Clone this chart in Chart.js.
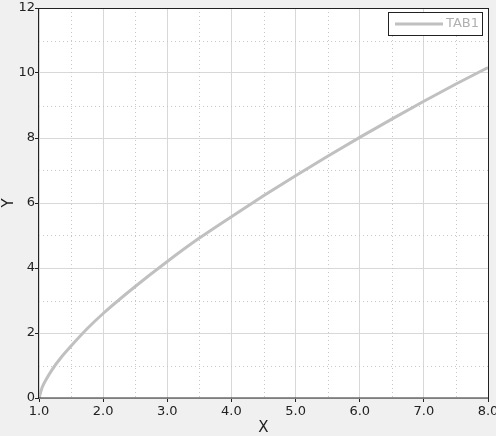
<!DOCTYPE html>
<html>
<head>
<meta charset="utf-8">
<script src="https://cdn.jsdelivr.net/npm/chart.js@4.4.1/dist/chart.umd.min.js"></script>
<style>
  html, body { margin: 0; padding: 0; background: #f0f0f0; }
  #contenedor { width: 496px; height: 436px; }
</style>
</head>
<body>
<div id="contenedor"><canvas id="graficoTab"></canvas></div>
<script>
// valores
var valoresX = [1.0, 1.05, 1.1, 1.2, 1.35, 1.5, 1.75, 2.0, 2.5, 3.0, 3.5, 4.0, 4.5, 5.0, 5.5, 6.0, 6.5, 7.0, 7.5, 8.0];
var valoresY = [0, 0.33, 0.53, 0.86, 1.26, 1.6, 2.13, 2.6, 3.43, 4.2, 4.92, 5.58, 6.22, 6.84, 7.44, 8.02, 8.58, 9.13, 9.66, 10.17];
var etiquetaSerie = "TAB1";
var rangoX = [1, 8];
var rangoY = [0, 12];

var graficoTab = null;

// fondo blanco, grilla punteada (0.5 en X, 1 en Y), marco y leyenda
var grillaMenor = {
  id: 'grillaMenor',
  beforeDraw: function(chart) {
    var a = chart.chartArea;
    chart.ctx.save();
    chart.ctx.fillStyle = '#ffffff';
    chart.ctx.fillRect(a.left, a.top, a.right - a.left, a.bottom - a.top);
    chart.ctx.restore();
  },
  beforeDatasetsDraw: function(chart) {
    var ctx = chart.ctx;
    var area = chart.chartArea;
    var sx = chart.scales.x;
    var sy = chart.scales.y;
    ctx.save();
    ctx.strokeStyle = '#c8c8c8';
    ctx.lineWidth = 1;
    ctx.setLineDash([1, 3]);
    for (var v = 1.5; v < 8; v += 1) {
      var px = Math.round(sx.getPixelForValue(v)) + 0.5;
      ctx.beginPath();
      ctx.moveTo(px, area.top);
      ctx.lineTo(px, area.bottom);
      ctx.stroke();
    }
    for (var w = 1; w < 12; w += 2) {
      var py = Math.round(sy.getPixelForValue(w)) + 0.5;
      ctx.beginPath();
      ctx.moveTo(area.left, py);
      ctx.lineTo(area.right, py);
      ctx.stroke();
    }
    ctx.restore();
  },
  afterDraw: function(chart) {
    var ctx = chart.ctx;
    var a = chart.chartArea;
    ctx.save();
    ctx.strokeStyle = '#222';
    ctx.lineWidth = 1;
    ctx.strokeRect(Math.round(a.left) - 0.5, Math.round(a.top) + 0.5,
      Math.round(a.right - a.left) + 1, Math.round(a.bottom - a.top) - 0.5);

    // leyenda dentro del grafico
    var ds = chart.data.datasets[0];
    var x0 = Math.round(a.right) - 100, y0 = Math.round(a.top) + 4;
    ctx.fillStyle = '#ffffff';
    ctx.fillRect(x0, y0, 94, 23);
    ctx.strokeStyle = '#222';
    ctx.strokeRect(x0 + 0.5, y0 + 0.5, 94, 23);
    ctx.strokeStyle = ds.borderColor;
    ctx.lineWidth = 3;
    ctx.beginPath();
    ctx.moveTo(x0 + 7, y0 + 12);
    ctx.lineTo(x0 + 55, y0 + 12);
    ctx.stroke();
    ctx.fillStyle = '#b0b0b0';
    ctx.font = '13px "DejaVu Sans"';
    ctx.textBaseline = 'middle';
    ctx.fillText(ds.label, x0 + 58, y0 + 12);
    ctx.restore();
  }
};

function crearGrafico() {
  var ctx = document.getElementById("graficoTab").getContext("2d");
  var puntos = valoresX.map(function(x, i) { return { x: x, y: valoresY[i] }; });

  graficoTab = new Chart(ctx, {
    type: "line",
    data: {
      datasets: [
        {
          label: etiquetaSerie,
          data: puntos,
          borderColor: "#c0c0c0",
          borderWidth: 3,
          pointRadius: 0,
          fill: false,
          cubicInterpolationMode: 'monotone'
        }
      ]
    },
    options: {
      responsive: true,
      maintainAspectRatio: false,
      animation: false,
      layout: { padding: { top: 8, right: 8, left: 0, bottom: 0 } },
      plugins: {
        legend: { display: false },
        tooltip: { enabled: false }
      },
      scales: {
        x: {
          type: 'linear',
          min: rangoX[0],
          max: rangoX[1],
          afterFit: function(scale) {
            scale.height = 38;
            scale.paddingLeft = 0;
            scale.paddingRight = 0;
          },
          ticks: {
            stepSize: 1,
            color: '#222',
            font: { family: 'DejaVu Sans', size: 13 },
            padding: 2,
            maxRotation: 0,
            callback: function(v) { return Number(v).toFixed(1); }
          },
          grid: { color: '#d8d8d8', tickColor: '#222', tickLength: 4 },
          border: { display: false },
          title: {
            display: true,
            text: 'X',
            color: '#222',
            font: { family: 'DejaVu Sans', size: 15 },
            padding: { top: 0, bottom: -1 }
          }
        },
        y: {
          min: rangoY[0],
          max: rangoY[1],
          afterFit: function(scale) {
            scale.width = 39;
            scale.paddingTop = 0;
            scale.paddingBottom = 0;
          },
          ticks: {
            stepSize: 2,
            color: '#222',
            font: { family: 'DejaVu Sans', size: 13 },
            padding: 0
          },
          grid: { color: '#d8d8d8', tickColor: '#222', tickLength: 4 },
          border: { display: false },
          title: {
            display: true,
            text: 'Y',
            color: '#222',
            font: { family: 'DejaVu Sans', size: 15 },
            padding: { top: 0, bottom: 0 }
          }
        }
      }
    },
    plugins: [grillaMenor]
  });
}

crearGrafico();
</script>
</body>
</html>
